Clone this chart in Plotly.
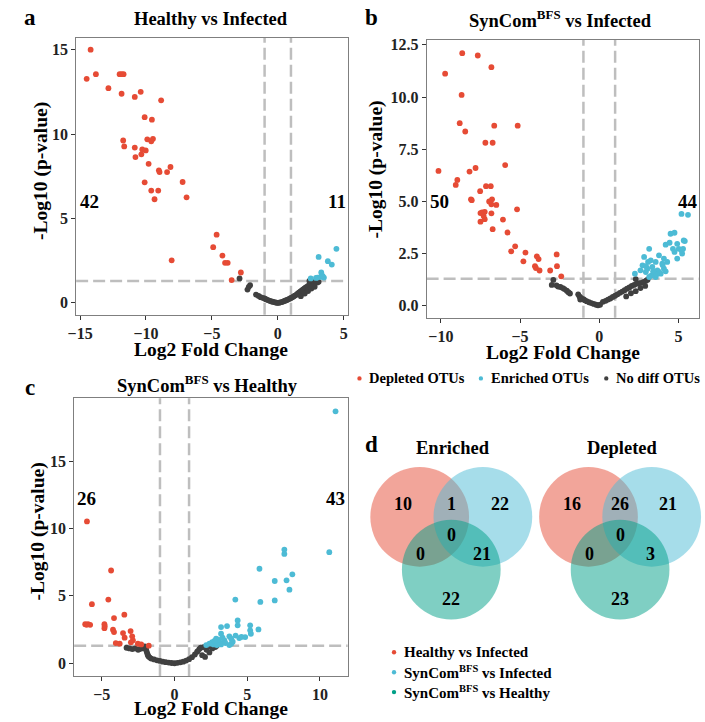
import plotly.graph_objects as go

W, H = 705, 722
FONT = "Liberation Serif"
RED = "#E64B35"; BLUE = "#4DBBD5"; GREY = "#404040"; GREEN = "#00A087"

# ---------------- Panel a: Healthy vs Infected ----------------
a_dep_x = [-14.2, -14.5, -13.8, -12.0, -11.85, -11.7, -12.85, -11.85, -10.85, -10.4, -8.85, -10.1, -9.55,
           -11.73, -11.65, -10.85, -10.8, -10.35, -10.28, -10.02, -9.9, -9.47, -9.6, -9.8, -9.02, -8.97,
           -8.4, -8.14, -10.1, -9.6, -9.07, -9.35, -7.22, -6.92, -4.64, -4.9, -4.2, -4.0, -3.8, -8.05,
           -2.8, -3.5]
a_dep_y = [15.0, 13.27, 13.55, 13.55, 13.55, 13.55, 12.72, 12.39, 12.2, 12.5, 12.0, 11.0, 10.85,
           9.62, 9.27, 9.2, 8.64, 8.8, 9.09, 9.03, 9.69, 9.72, 9.57, 8.24, 7.85, 7.75,
           7.75, 8.05, 7.14, 6.65, 6.65, 6.14, 7.16, 6.25, 4.04, 3.3, 2.8, 2.37, 2.37, 2.52,
           1.8, 1.35]
a_enr_x = [3.1, 3.8, 4.1, 4.45, 3.3, 3.25, 2.9, 2.5, 3.5, 3.0, 3.4]
a_enr_y = [2.72, 2.47, 2.27, 3.2, 1.8, 1.54, 1.48, 1.45, 1.5, 1.5, 1.6]
a_ns_x = [-2.2, -2.3, -2.1, -1.65, -1.45, -1.3, -1.15, -1.0, -0.9, -0.8, -0.7, -0.6, -0.5, -0.4, -0.3,
          -0.2, -0.1, 0.0, 0.1, 0.2, 0.3, 0.4, 0.5, 0.6, 0.7, 0.8, 0.9, 1.0, 1.1, 1.2, 1.3, 1.4, 1.5,
          1.6, 1.7, 1.8, 1.9, 2.0, 2.1, 2.2, 2.3, 2.4, 2.5, 2.6, 2.7, 2.8, 2.9, 3.0, 3.1, 1.75, 2.05,
          2.3, 2.55, 2.8, 2.4, 2.65, -2.9]
a_ns_y = [0.95, 0.79, 1.05, 0.49, 0.41, 0.34, 0.3, 0.26, 0.22, 0.18, 0.15, 0.12, 0.09, 0.07, 0.05,
          0.03, 0.01, 0.0, 0.01, 0.03, 0.05, 0.08, 0.11, 0.14, 0.17, 0.21, 0.25, 0.29, 0.33, 0.38, 0.43,
          0.48, 0.54, 0.6, 0.66, 0.72, 0.78, 0.84, 0.9, 0.95, 1.0, 1.05, 1.1, 1.15, 1.2, 1.25, 1.3,
          1.2, 1.25, 0.4, 0.55, 0.7, 0.85, 0.95, 1.3, 1.0, 1.45]

# ---------------- Panel b: SynCom vs Infected ----------------
b_dep_x = [-8.65, -7.67, -6.81, -9.73, -8.69, -8.81, -8.46, -6.63, -5.15, -7.19, -6.73, -10.15, -5.94,
           -8.19, -7.81, -8.96, -9.06, -7.15, -6.85, -7.52, -8.1, -8.05, -6.77, -6.81, -6.5, -5.19,
           -7.4, -7.23, -7.5, -6.81, -7.23, -7.5, -6.08, -6.73, -5.79, -5.31, -5.56, -4.66, -3.94,
           -3.83, -4.79, -4.06, -4.0, -3.77, -3.1, -2.69, -2.67, -2.4, -7.3, -6.95]
b_dep_y = [12.1, 11.99, 11.43, 11.12, 10.1, 8.75, 8.35, 8.63, 8.63, 7.81, 7.81, 6.46, 6.74,
           6.43, 6.6, 6.03, 5.79, 5.73, 5.73, 5.49, 5.1, 5.06, 5.1, 4.86, 4.83, 4.62,
           4.47, 4.5, 4.44, 4.43, 4.15, 4.03, 4.13, 3.67, 3.51, 2.85, 2.61, 2.55, 2.37,
           2.24, 2.13, 1.9, 1.81, 1.69, 1.69, 2.46, 1.9, 1.41, 4.3, 5.0]
b_enr_x = [5.19, 5.6, 4.5, 4.75, 4.19, 4.92, 5.33, 5.02, 5.29, 4.75, 5.23, 4.92, 3.15, 2.83, 3.77,
           4.08, 3.98, 4.29, 3.25, 3.35, 3.67, 3.04, 2.73, 2.94, 3.46, 3.88, 4.19, 2.25, 3.15, 3.56,
           3.77, 4.08, 3.08, 3.56, 4.65, 5.2, 5.4, 4.44, 3.3, 3.6, 2.6, 4.0, 3.4, 2.95]
b_enr_y = [4.40, 4.36, 3.45, 3.5, 2.93, 2.97, 3.13, 2.73, 2.73, 2.58, 2.5, 2.26, 2.73, 2.34, 2.42,
           2.26, 2.02, 2.1, 2.18, 1.86, 1.7, 1.78, 1.94, 1.62, 1.54, 1.54, 1.65, 1.54, 1.38, 1.38,
           1.62, 1.78, 2.1, 2.1, 2.73, 2.65, 3.1, 3.02, 1.45, 1.5, 1.7, 1.95, 1.65, 1.9]
b_ns_x = [-2.9, -3.0, -2.7, -2.6, -2.45, -2.3, -2.2, -2.05, -1.95, -1.85, -1.33, -1.25, -1.15, -1.0,
          -0.92, -0.8, -0.65, -0.5, -0.35, -0.2, -0.08, 0.05, 0.23, 0.4, 0.55, 0.7, 0.85, 1.0, 1.15,
          1.3, 1.45, 1.6, 1.75, 1.9, 2.05, 2.2, 2.35, 2.5, 2.65, 2.8, 2.95, 3.05, 1.7, 2.0, 2.3,
          2.6, 2.9, 2.3, -1.2]
b_ns_y = [1.24, 1.0, 0.98, 0.92, 0.9, 0.85, 0.8, 0.72, 0.65, 0.59, 0.55, 0.45, 0.38, 0.32,
          0.27, 0.22, 0.17, 0.13, 0.09, 0.05, 0.02, 0.05, 0.19, 0.24, 0.3, 0.35, 0.42, 0.48, 0.55,
          0.62, 0.68, 0.75, 0.82, 0.88, 0.95, 1.0, 1.05, 1.08, 1.1, 1.15, 1.2, 1.25, 0.45, 0.6,
          0.7, 0.85, 0.95, 1.28, 0.3]

# ---------------- Panel c: SynCom vs Healthy ----------------
c_dep_x = [-6.02, -4.36, -5.68, -4.55, -4.16, -3.45, -6.14, -5.95, -5.8, -4.82, -4.82, -4.23, -4.16,
           -3.54, -3.43, -3.02, -2.91, -2.86, -4.04, -3.77, -2.52, -2.29, -1.77, -6.05, -4.8, -3.0]
c_dep_y = [10.52, 6.88, 4.38, 4.72, 3.35, 3.6, 2.9, 2.9, 2.85, 2.9, 2.6, 2.49, 2.31,
           2.24, 1.9, 2.39, 2.0, 1.7, 1.5, 1.45, 1.45, 1.4, 1.3, 2.85, 2.75, 1.55]
c_enr_x = [11.07, 10.64, 7.55, 7.55, 5.84, 8.1, 6.89, 7.7, 7.9, 4.18, 5.9, 6.89, 4.34, 4.34, 3.2,
           3.61, 5.2, 5.2, 5.25, 5.77, 3.2, 2.86, 3.77, 4.45, 4.86, 2.59, 3.09, 3.43, 3.89, 2.68,
           3.2, 3.77, 2.91, 2.18, 3.5, 4.0, 2.4, 3.0, 4.6, 3.9, 2.75, 3.3, 4.2]
c_enr_y = [18.69, 8.24, 8.43, 8.11, 7.01, 6.6, 6.1, 6.15, 5.46, 4.72, 4.55, 4.66, 3.18, 2.81, 2.68,
           2.76, 2.81, 2.44, 2.19, 2.51, 2.19, 1.83, 2.0, 1.87, 1.94, 1.57, 1.57, 1.7, 1.83, 1.4,
           1.4, 1.35, 1.35, 1.35, 1.5, 1.6, 1.45, 1.75, 1.95, 1.45, 1.65, 1.9, 2.05]
c_ns_x = [-3.3, -3.1, -2.9, -2.7, -2.5, -2.4, -2.05, -2.0, -1.95, -1.9, -1.85, -1.8, -1.7, -1.6,
          -1.4, -1.2, -1.0, -0.8, -0.6, -0.4, -0.2, 0.0, 0.2, 0.4, 0.6, 0.8, 1.0, 1.2, 1.4, 1.55,
          1.7, 1.8, 2.0, 2.2, 2.4, 2.6, 2.8, 1.9, 2.1, 1.6, 2.5, 2.9, -2.2]
c_ns_y = [1.15, 1.1, 1.05, 1.1, 1.0, 1.05, 1.25, 1.15, 1.0, 0.82, 0.65, 0.52, 0.42, 0.35,
          0.28, 0.22, 0.17, 0.12, 0.08, 0.05, 0.02, 0.0, 0.03, 0.07, 0.12, 0.2, 0.3, 0.45, 0.65, 0.85,
          1.05, 1.15, 1.2, 1.0, 0.8, 1.1, 1.2, 0.6, 0.47, 0.9, 1.25, 1.3, 1.1]

# ---------------- Venn counts ----------------
venn_regions = ["A only", "A&B", "B only", "A&B&C", "A&C", "B&C", "C only"]
enriched_counts = [10, 1, 22, 0, 0, 21, 22]
depleted_counts = [16, 26, 21, 0, 0, 3, 23]
venn_sets = ["Healthy vs Infected", "SynCom<sup>BFS</sup> vs Infected", "SynCom<sup>BFS</sup> vs Healthy"]

count_labels = {"a": ("42", "11"), "b": ("50", "44"), "c": ("26", "43")}

# ---------------------------------------------------------------
def px(x): return x / W
def py(y): return 1 - y / H

fig = go.Figure()
panels = [
    ("x", "y", a_dep_x, a_dep_y, a_enr_x, a_enr_y, a_ns_x, a_ns_y),
    ("x2", "y2", b_dep_x, b_dep_y, b_enr_x, b_enr_y, b_ns_x, b_ns_y),
    ("x3", "y3", c_dep_x, c_dep_y, c_enr_x, c_enr_y, c_ns_x, c_ns_y),
]
for xa, ya, dx, dy, ex, ey, nx, ny in panels:
    for xs, ys, col in ((nx, ny, GREY), (dx, dy, RED), (ex, ey, BLUE)):
        fig.add_trace(go.Scatter(x=xs, y=ys, mode="markers", xaxis=xa, yaxis=ya,
                                 marker=dict(color=col, size=5.8, line=dict(width=0)),
                                 showlegend=False, hoverinfo="skip"))

axstyle = dict(showline=True, mirror=True, linecolor="#7F7F7F", linewidth=1, ticks="outside",
               ticklen=4, tickcolor="#333333", showgrid=False, zeroline=False,
               tickfont=dict(family=FONT, size=16, color="#222", weight="bold"))

fig.update_layout(
    width=W, height=H, margin=dict(l=0, r=0, t=0, b=0),
    paper_bgcolor="white", plot_bgcolor="white", showlegend=False,
    xaxis=dict(domain=[px(68), px(343)], anchor="y", range=[-15.3, 5.3], tickvals=[-15, -10, -5, 0, 5], **axstyle),
    yaxis=dict(domain=[py(313), py(35)], anchor="x", range=[-0.7, 15.7], tickvals=[0, 5, 10, 15], **axstyle),
    xaxis2=dict(domain=[px(423), px(699)], anchor="y2", range=[-10.9, 6.3], tickvals=[-10, -5, 0, 5], **axstyle),
    yaxis2=dict(domain=[py(316), py(37)], anchor="x2", range=[-0.57, 12.74], tickvals=[0, 2.5, 5, 7.5, 10, 12.5],
                ticktext=["0.0", "2.5", "5.0", "7.5", "10.0", "12.5"], **axstyle),
    xaxis3=dict(domain=[px(66), px(343)], anchor="y3", range=[-6.9, 11.9], tickvals=[-5, 0, 5, 10], **axstyle),
    yaxis3=dict(domain=[py(676), py(397)], anchor="x3", range=[-0.96, 19.65], tickvals=[0, 5, 10, 15], **axstyle),
)

# dashed threshold lines
dash_line = dict(color="#BEBEBE", width=2.5, dash="12px,5px")
for xa, ya in (("x", "y"), ("x2", "y2"), ("x3", "y3")):
    for xv in (-1, 1):
        fig.add_shape(type="line", xref=xa, yref=ya + " domain", x0=xv, x1=xv, y0=0, y1=1,
                      line=dash_line, layer="below")
    fig.add_shape(type="line", xref=xa + " domain", yref=ya, x0=0, x1=1, y0=1.301, y1=1.301,
                  line=dash_line, layer="below")

ann = []
def txt(x, y, t, size, **kw):
    d = dict(x=px(x), y=py(y), xref="paper", yref="paper", text=t, showarrow=False,
             font=dict(family=FONT, size=size, color="black"), xanchor="center", yanchor="middle")
    d.update(kw)
    ann.append(d)

# panel letters & titles
txt(21, 15, "<b>a</b>", 23)
txt(367, 15, "<b>b</b>", 23)
txt(21, 386, "<b>c</b>", 23)
txt(367, 443, "<b>d</b>", 23)
txt(205, 16, "<b>Healthy vs Infected</b>", 18.5)
txt(559, 16, "<b>SynCom<sup>BFS</sup> vs Infected</b>", 18.5)
txt(201, 383, "<b>SynCom<sup>BFS</sup> vs Healthy</b>", 18.5)
# axis titles
for cx, cy in ((205, 348), (561, 351), (205, 708)):
    txt(cx, cy, "<b>Log2 Fold Change</b>", 19.5)
for cx, cy in ((33, 169), (372, 167), (29, 531)):
    txt(cx, cy, "<b>-Log10 (p-value)</b>", 19.5, textangle=-90)

# count labels in data coords
for (xa, ya), key, lpos, rpos in ((("x", "y"), "a", (-14.3, 6.0), (4.5, 6.0)),
                                  (("x2", "y2"), "b", (-10.06, 5.0), (5.6, 5.0)),
                                  (("x3", "y3"), "c", (-6.02, 12.2), (11.05, 12.2))):
    for (lx, ly), t in ((lpos, count_labels[key][0]), (rpos, count_labels[key][1])):
        ann.append(dict(x=lx, y=ly, xref=xa, yref=ya, text="<b>%s</b>" % t, showarrow=False,
                        font=dict(family=FONT, size=19, color="black")))

# main legend
for mx, label in ((355, "Depleted OTUs"), (478, "Enriched OTUs"), (605, "No diff OTUs")):
    txt(mx + 8, 377, "<b>%s</b>" % label, 14.5, xanchor="left")
shapes_extra = []
for mx, col in ((355, RED), (478, BLUE), (605, GREY)):
    shapes_extra.append(dict(type="circle", xref="paper", yref="paper", x0=px(mx - 2.2), x1=px(mx + 2.2),
                             y0=py(377 + 2.2), y1=py(377 - 2.2), fillcolor=col, line=dict(width=0)))

# Venn diagrams
r = 50
venn_cols = ["rgba(230,75,53,0.5)", "rgba(77,187,213,0.5)", "rgba(0,160,135,0.5)"]
for title, counts, (cxA, cxB, cxC) in (("Enriched", enriched_counts, (416, 480, 448)),
                                        ("Depleted", depleted_counts, (587, 651, 619))):
    centers = [(cxA, 516), (cxB, 516), (cxC, 569)]
    for (cx, cy), col in zip(centers, venn_cols):
        shapes_extra.append(dict(type="circle", xref="paper", yref="paper", x0=px(cx - r), x1=px(cx + r),
                                 y0=py(cy + r), y1=py(cy - r), fillcolor=col, line=dict(width=0)))
    mid = (cxA + cxB) / 2
    txt(mid + 2, 447, "<b>%s</b>" % title, 18.5)
    offs = [(cxA - 17, 503), (mid, 503), (cxB + 17, 503), (mid, 534), (cxA + 1, 553), (cxB - 1, 553), (cxC, 598)]
    for (ox, oy), v in zip(offs, counts):
        txt(ox, oy, "<b>%d</b>" % v, 18)

# Venn legend
for i, (name, col) in enumerate(zip(venn_sets, [RED, BLUE, GREEN])):
    yy = 652 + 20 * i
    shapes_extra.append(dict(type="circle", xref="paper", yref="paper", x0=px(390 - 2.2), x1=px(390 + 2.2),
                             y0=py(yy + 2.2), y1=py(yy - 2.2), fillcolor=col, line=dict(width=0)))
    txt(398, yy, "<b>%s</b>" % name, 15, xanchor="left")

for s in shapes_extra:
    fig.add_shape(**s)
fig.update_layout(annotations=ann)
fig.write_html("out.html", config={"displayModeBar": False},
               post_script="document.body.style.margin='0px';document.body.style.overflow='hidden';")
